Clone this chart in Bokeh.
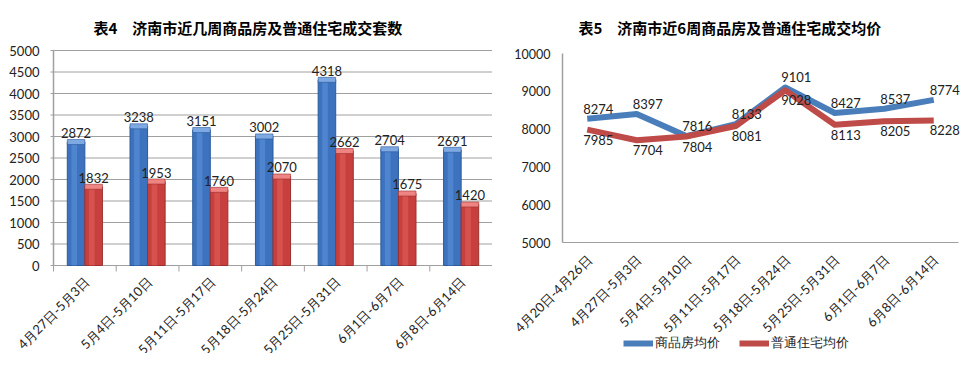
import math
from bokeh.plotting import figure
from bokeh.models import Range1d, ColumnDataSource, LabelSet, Label, Legend, LegendItem
from bokeh.layouts import row
from bokeh.embed import file_html
from bokeh.resources import INLINE
from bokeh.core.properties import value

# ---------------- data ----------------
weeks4 = ["4月27日-5月3日", "5月4日-5月10日", "5月11日-5月17日", "5月18日-5月24日",
          "5月25日-5月31日", "6月1日-6月7日", "6月8日-6月14日"]
units_commercial = [2872, 3238, 3151, 3002, 4318, 2704, 2691]
units_ordinary = [1832, 1953, 1760, 2070, 2662, 1675, 1420]
y_ticks4 = [0, 500, 1000, 1500, 2000, 2500, 3000, 3500, 4000, 4500, 5000]

weeks5 = ["4月20日-4月26日", "4月27日-5月3日", "5月4日-5月10日", "5月11日-5月17日",
          "5月18日-5月24日", "5月25日-5月31日", "6月1日-6月7日", "6月8日-6月14日"]
price_commercial = [8274, 8397, 7816, 8133, 9101, 8427, 8537, 8774]
price_ordinary = [7985, 7704, 7804, 8081, 9028, 8113, 8205, 8228]
y_ticks5 = [5000, 6000, 7000, 8000, 9000, 10000]

series_names = ["商品房均价", "普通住宅均价"]
title4 = "表4\u3000济南市近几周商品房及普通住宅成交套数"
title5 = "表5\u3000济南市近6周商品房及普通住宅成交均价"

# ---------------- styles / layout constants (pixels) ----------------
H = 353
W1, W2 = 492, 470
FONT = "Lato"
TFONT = "Noto Sans CJK SC"
BLUE, BLUE_HI, BLUE_EDGE, BLUE_CAP = "#3C72BE", "#5E93DA", "#2B5A9C", "#7FA9E3"
RED, RED_HI, RED_EDGE, RED_CAP = "#C8403E", "#E2605D", "#9C2F2D", "#EE8583"
LBLUE, LRED = "#4A7EBB", "#BE4B48"
AX = "#A0A0A0"
TXT = "#222222"

# left chart: axis at x=53px, plot right at 492px; 5000 at 50px, 0 at 265px
L_AXIS_PX, L_RIGHT_PX, L_TOP_PX, L_BOT_PX = 53, 492, 50, 265
# right chart (relative to its own canvas): axis at 70px, right end 466px; 10000 at 53px, 5000 at 242px
R_AXIS_PX, R_RIGHT_PX, R_TOP_PX, R_BOT_PX = 70, 466, 53, 242


def ranges(n, axis_px, right_px, width, vmin, vmax, top_px, bot_px):
    xpp = n / (right_px - axis_px)
    ypp = (vmax - vmin) / (bot_px - top_px)
    xr = Range1d(-axis_px * xpp, n + (width - right_px) * xpp)
    yr = Range1d(vmin - (H - bot_px) * ypp, vmax + top_px * ypp)
    return xr, yr, xpp, ypp


def make_fig(width, xr, yr):
    p = figure(width=width, height=H, x_range=xr, y_range=yr, output_backend="svg",
               toolbar_location=None, min_border_left=0, min_border_right=0,
               min_border_top=0, min_border_bottom=0)
    p.outline_line_color = None
    p.xaxis.visible = False
    p.yaxis.visible = False
    p.xgrid.grid_line_color = None
    p.ygrid.grid_line_color = None
    return p


def add_text(p, src, x, y, text, **kw):
    p.add_layout(LabelSet(x=x, y=y, text=text, source=src, text_font=value(FONT),
                          text_color=TXT, **kw))


# ---------------- left chart ----------------
n4 = len(weeks4)
xr4, yr4, xpp4, ypp4 = ranges(n4, L_AXIS_PX, L_RIGHT_PX, W1, y_ticks4[0], y_ticks4[-1],
                              L_TOP_PX, L_BOT_PX)
p1 = make_fig(W1, xr4, yr4)

BW = 0.28
centers4 = [i + 0.5 for i in range(n4)]
src4 = ColumnDataSource(dict(week=weeks4, x=centers4,
                             xc=[c - BW / 2 for c in centers4], xo=[c + BW / 2 for c in centers4],
                             xch=[c - BW / 2 - 0.03 for c in centers4],
                             xoh=[c + BW / 2 - 0.03 for c in centers4],
                             c=units_commercial, o=units_ordinary,
                             ct=[str(v) for v in units_commercial],
                             ot=[str(v) for v in units_ordinary],
                             base=[y_ticks4[0]] * n4))
tk4 = ColumnDataSource(dict(y=y_ticks4, t=[str(v) for v in y_ticks4], x=[0] * len(y_ticks4)))

# gridlines + ticks, axis lines, category separators
p1.segment(x0=[-3 * xpp4] * len(y_ticks4), y0=y_ticks4, x1=[n4] * len(y_ticks4), y1=y_ticks4,
           line_color=AX, line_width=1)
p1.segment(x0=[0], y0=[y_ticks4[0]], x1=[0], y1=[y_ticks4[-1]], line_color=AX, line_width=1.5)
p1.segment(x0=[0], y0=[y_ticks4[0]], x1=[n4], y1=[y_ticks4[0]], line_color=AX, line_width=1.2)
p1.segment(x0=list(range(n4 + 1)), y0=[y_ticks4[0]] * (n4 + 1), x1=list(range(n4 + 1)),
           y1=[y_ticks4[0] - 6 * ypp4] * (n4 + 1), line_color=AX, line_width=1)

p1.vbar(x="xc", top="c", width=BW, source=src4, fill_color=BLUE, line_color=BLUE_EDGE, line_width=1)
p1.vbar(x="xch", top="c", width=0.09, source=src4, fill_color=BLUE_HI, line_color=None, fill_alpha=0.55)
p1.rect(x="xc", y="c", width=BW, height=5, height_units="screen", source=src4,
        fill_color=BLUE_CAP, line_color=BLUE_EDGE, line_width=0.6)
p1.vbar(x="xo", top="o", width=BW, source=src4, fill_color=RED, line_color=RED_EDGE, line_width=1)
p1.vbar(x="xoh", top="o", width=0.09, source=src4, fill_color=RED_HI, line_color=None, fill_alpha=0.55)
p1.rect(x="xo", y="o", width=BW, height=5, height_units="screen", source=src4,
        fill_color=RED_CAP, line_color=RED_EDGE, line_width=0.6)

add_text(p1, src4, "xc", "c", "ct", text_align="center", text_baseline="bottom", y_offset=4,
         text_font_size="13px")
add_text(p1, src4, "xo", "o", "ot", text_align="center", text_baseline="bottom", y_offset=4,
         text_font_size="13px")
add_text(p1, tk4, "x", "y", "t", text_align="right", text_baseline="middle", x_offset=-14,
         text_font_size="13px")
add_text(p1, src4, "x", "base", "week", angle=math.pi / 4, text_align="right",
         text_baseline="middle", x_offset=2, y_offset=-14, text_font_size="13px")
p1.add_layout(Label(x=0, y=y_ticks4[-1], text=title4, x_offset=40, y_offset=L_TOP_PX - 27,
                    text_align="left", text_baseline="middle", text_font=TFONT,
                    text_font_size="15px", text_font_style="bold", text_color="#000000"))

# ---------------- right chart ----------------
n5 = len(weeks5)
xr5, yr5, xpp5, ypp5 = ranges(n5, R_AXIS_PX, R_RIGHT_PX, W2, y_ticks5[0], y_ticks5[-1],
                              R_TOP_PX, R_BOT_PX)
p2 = make_fig(W2, xr5, yr5)

src5 = ColumnDataSource(dict(week=weeks5, x=[i + 0.5 for i in range(n5)],
                             c=price_commercial, o=price_ordinary,
                             ct=[str(v) for v in price_commercial],
                             ot=[str(v) for v in price_ordinary],
                             base=[y_ticks5[0]] * n5))
tk5 = ColumnDataSource(dict(y=y_ticks5, t=[str(v) for v in y_ticks5], x=[0] * len(y_ticks5)))

p2.segment(x0=[0], y0=[y_ticks5[0]], x1=[0], y1=[y_ticks5[-1]], line_color=AX, line_width=1.5)
p2.segment(x0=[0], y0=[y_ticks5[0]], x1=[n5], y1=[y_ticks5[0]], line_color=AX, line_width=1.2)

r1 = p2.line(x="x", y="c", source=src5, line_color=LBLUE, line_width=6, line_join="round")
r2 = p2.line(x="x", y="o", source=src5, line_color=LRED, line_width=6, line_join="round")
add_text(p2, src5, "x", "c", "ct", text_align="left", text_baseline="bottom", x_offset=-4,
         y_offset=5, text_font_size="13px")
add_text(p2, src5, "x", "o", "ot", text_align="left", text_baseline="top", x_offset=-4,
         y_offset=-5, text_font_size="13px")
add_text(p2, tk5, "x", "y", "t", text_align="right", text_baseline="middle", x_offset=-12,
         text_font_size="12.5px")
add_text(p2, src5, "x", "base", "week", angle=math.pi / 4, text_align="right",
         text_baseline="middle", x_offset=2, y_offset=-15, text_font_size="13px")
p2.add_layout(Label(x=0, y=y_ticks5[-1], text=title5, x_offset=16, y_offset=R_TOP_PX - 27,
                    text_align="left", text_baseline="middle", text_font=TFONT,
                    text_font_size="15px", text_font_style="bold", text_color="#000000"))

legend = Legend(items=[LegendItem(label=series_names[0], renderers=[r1]),
                       LegendItem(label=series_names[1], renderers=[r2])],
                orientation="horizontal", location=(131, 1))
legend.label_text_font = FONT
legend.label_text_font_size = "13px"
legend.label_text_color = TXT
legend.glyph_width = 30
legend.glyph_height = 16
legend.label_height = 16
legend.label_standoff = 2
legend.spacing = 19
legend.padding = 0
legend.margin = 0
legend.border_line_color = None
legend.background_fill_alpha = 0
p2.add_layout(legend)

layout = row(p1, p2)
open("out.html", "w").write(file_html(layout, INLINE))
